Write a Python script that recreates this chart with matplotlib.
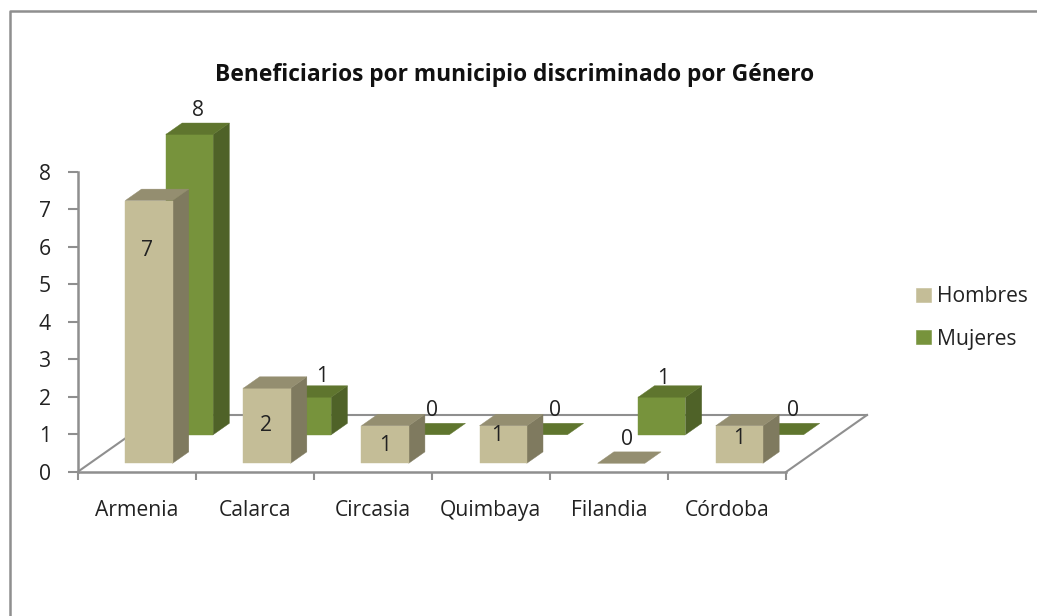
import matplotlib
matplotlib.use("Agg")
import matplotlib.pyplot as plt
from matplotlib.patches import Polygon, Patch
from matplotlib.lines import Line2D

plt.rcParams['font.family'] = ['Open Sans', 'DejaVu Sans']

municipios = ['Armenia', 'Calarca', 'Circasia', 'Quimbaya', 'Filandia', 'Córdoba']
hombres = [7, 2, 1, 1, 0, 1]
mujeres = [8, 1, 0, 0, 1, 0]

# Label nudges in pixels (right, up) from the centre top of each bar's front
hombres_nudge = [(-2, -50), (-1, -37), (0, -20), (-6, -10), (6, 24), (0, -13)]
mujeres_nudge = [(8, 24), (15, 21), (6, 24), (11, 24), (1, 19), (13, 24)]

W, H = 1037, 616
fig = plt.figure(figsize=(W / 100, H / 100), dpi=100, facecolor='white')
ax = fig.add_axes([77.5 / W, (H - 472) / H, 708.5 / W, 300.3 / H], facecolor='none')
ax.set_xlim(0, 6)
ax.set_ylim(0, 8)

GRAY = '#8f8f8f'
TXT = '#222222'
FS = 15.2
# oblique projection of the floor depth, in data units
DX = 81 / 118.08
DY = 57 / 37.54
BAR_W = 0.4
BAR_D = 0.2


def proj(x, y, d):
    return (x + d * DX, y + d * DY)


def bar3d(i, v, d0, front, top, side, z):
    x0 = i + (1 - BAR_W) / 2
    x1 = x0 + BAR_W
    d1 = d0 + BAR_D
    faces = []
    if v > 0:
        faces.append(([proj(x1, 0, d0), proj(x1, 0, d1), proj(x1, v, d1), proj(x1, v, d0)], side))
        faces.append(([proj(x0, 0, d0), proj(x1, 0, d0), proj(x1, v, d0), proj(x0, v, d0)], front))
    faces.append(([proj(x0, v, d0), proj(x1, v, d0), proj(x1, v, d1), proj(x0, v, d1)], top))
    for pts, c in faces:
        ax.add_patch(Polygon(pts, closed=True, facecolor=c, edgecolor=c, linewidth=0.3,
                             clip_on=False, zorder=z))


# floor outline
for a, b in [((0, 0), proj(0, 0, 1)), (proj(0, 0, 1), proj(6, 0, 1)), ((6, 0), proj(6, 0, 1))]:
    ax.add_line(Line2D([a[0], b[0]], [a[1], b[1]], color=GRAY, lw=1.5, clip_on=False, zorder=1))

for i, v in enumerate(mujeres):
    bar3d(i, v, 0.654, '#77933c', '#5f752e', '#4f6228', 3)
for i, v in enumerate(hombres):
    bar3d(i, v, 0.153, '#c4bd97', '#948e70', '#7f7a5f', 4)

# value labels
for i, v in enumerate(mujeres):
    x, y = proj(i + 0.5, v, 0.654)
    nx, ny = mujeres_nudge[i]
    ax.annotate(str(v), (x, y), xytext=(nx, ny), textcoords='offset pixels', ha='center',
                va='center', fontsize=FS, color=TXT, annotation_clip=False, zorder=6)
for i, v in enumerate(hombres):
    x, y = proj(i + 0.5, v, 0.153)
    nx, ny = hombres_nudge[i]
    ax.annotate(str(v), (x, y), xytext=(nx, ny), textcoords='offset pixels', ha='center',
                va='center', fontsize=FS, color=TXT, annotation_clip=False, zorder=6)

# axes
for s in ['top', 'right']:
    ax.spines[s].set_visible(False)
for s in ['left', 'bottom']:
    ax.spines[s].set_color(GRAY)
    ax.spines[s].set_linewidth(1.8)
    ax.spines[s].set_zorder(2)
ax.set_yticks(range(0, 9))
ax.set_xticks(range(0, 7))
ax.set_xticklabels([])
ax.set_xticks([i + 0.5 for i in range(6)], minor=True)
ax.set_xticklabels(municipios, minor=True)
ax.tick_params(axis='y', length=7, width=1.5, color=GRAY, labelsize=FS, labelcolor=TXT, pad=12)
ax.tick_params(axis='x', which='major', length=6, width=1.5, color=GRAY)
ax.tick_params(axis='x', which='minor', length=0, labelsize=FS, labelcolor=TXT, pad=20.5)

fig.text(515 / W, 1 - 75 / H, 'Beneficiarios por municipio discriminado por Género', ha='center',
         va='center', fontsize=16.4, fontweight='bold', color='#111111')

handles = [Patch(facecolor='#c4bd97', edgecolor='#c4bd97', lw=0.4, label='Hombres'),
           Patch(facecolor='#77933c', edgecolor='#77933c', lw=0.4, label='Mujeres')]
fig.legend(handles=handles, loc='center left', bbox_to_anchor=(912 / W, 1 - 318 / H), frameon=False,
           fontsize=FS, labelcolor=TXT, handlelength=0.68, handleheight=0.68, handletextpad=0.3,
           labelspacing=1.0, borderpad=0.2, borderaxespad=0)

# outer frame of the chart area
fig.add_artist(Line2D([9.5 / W, 9.5 / W, 1], [0, 1 - 11 / H, 1 - 11 / H], color=GRAY, lw=1.8,
                      transform=fig.transFigure))

fig.savefig('out.png', dpi=100)
